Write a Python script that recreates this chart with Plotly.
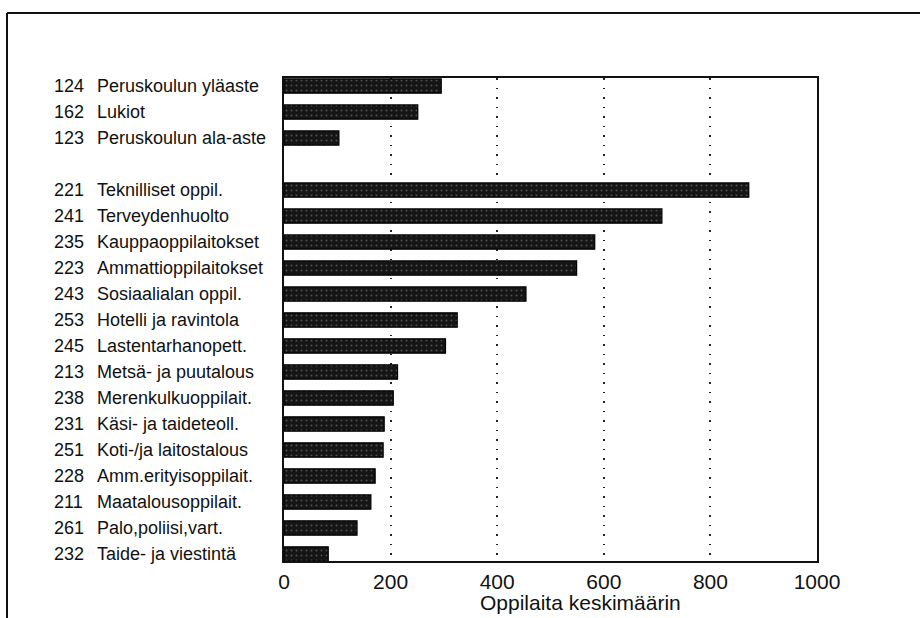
import plotly.graph_objects as go

codes = ["124", "162", "123", "221", "241", "235", "223", "243", "253",
         "245", "213", "238", "231", "251", "228", "211", "261", "232"]
names = ["Peruskoulun yläaste", "Lukiot", "Peruskoulun ala-aste",
         "Teknilliset oppil.", "Terveydenhuolto", "Kauppaoppilaitokset",
         "Ammattioppilaitokset", "Sosiaalialan oppil.", "Hotelli ja ravintola",
         "Lastentarhanopett.", "Metsä- ja puutalous", "Merenkulkuoppilait.",
         "Käsi- ja taideteoll.", "Koti-/ja laitostalous", "Amm.erityisoppilait.",
         "Maatalousoppilait.", "Palo,poliisi,vart.", "Taide- ja viestintä"]
values = [295, 251, 103, 872, 709, 583, 549, 454, 325,
          303, 213, 205, 188, 186, 171, 163, 137, 83]
x_ticks = [0, 200, 400, 600, 800, 1000]
x_title = "Oppilaita keskimäärin"

cats = [c + " " + n for c, n in zip(codes, names)]
# blank separator slot after the first group of three
order = cats[:3] + [" "] + cats[3:]

W, H = 920, 618
L, R, T, B = 284, 103, 78, 57
pw, ph = W - L - R, H - T - B

def px(xp):
    return (xp - L) / pw

def py(yp):
    return (H - B - yp) / ph

FONT = "Liberation Sans, Arial, Helvetica, sans-serif"

fig = go.Figure()
fig.add_trace(go.Bar(
    x=values, y=cats, orientation="h", width=0.55,
    marker=dict(color="#151515",
                line=dict(color="#000000", width=1.2),
                pattern=dict(shape=".", fgcolor="#8a8a8a", size=5, solidity=0.12)),
    hoverinfo="x+y", showlegend=False,
))

annotations = []
for c, n, cat in zip(codes, names, cats):
    annotations.append(dict(x=px(52), xref="paper", y=cat, yref="y", text=c,
                            xanchor="left", yanchor="middle", showarrow=False,
                            font=dict(size=18, color="#111", family=FONT)))
    annotations.append(dict(x=px(95), xref="paper", y=cat, yref="y", text=n,
                            xanchor="left", yanchor="middle", showarrow=False,
                            font=dict(size=18, color="#111", family=FONT)))
annotations.append(dict(x=px(580), xref="paper", y=py(602), yref="paper",
                        text=x_title, xanchor="center", yanchor="middle",
                        showarrow=False, font=dict(size=21, color="#111", family=FONT)))

shapes = [
    dict(type="line", xref="paper", yref="paper", x0=px(7), x1=px(925),
         y0=py(13), y1=py(13), line=dict(color="#111", width=2)),
    dict(type="line", xref="paper", yref="paper", x0=px(7), x1=px(7),
         y0=py(13), y1=py(625), line=dict(color="#111", width=2)),
]

fig.update_layout(
    width=W, height=H,
    margin=dict(l=L, r=R, t=T, b=B),
    paper_bgcolor="white", plot_bgcolor="white",
    font=dict(family=FONT, color="#111"),
    xaxis=dict(range=[0, 1000], tickvals=x_ticks, ticktext=[str(v) for v in x_ticks],
               showgrid=True, gridcolor="#222", gridwidth=1.5, griddash="1.5px,8px",
               zeroline=False, showline=True, linecolor="#111", linewidth=2, mirror=True,
               ticks="outside", ticklen=1, tickcolor="rgba(0,0,0,0)",
               tickfont=dict(size=21, family=FONT, color="#111")),
    yaxis=dict(type="category", categoryorder="array", categoryarray=order,
               range=[18.27, -0.31], showticklabels=False, showgrid=False,
               zeroline=False, showline=True, linecolor="#111", linewidth=2, mirror=True,
               ticks=""),
    annotations=annotations,
    shapes=shapes,
    bargap=0.45,
)

fig.write_html("out.html",
               config={"displayModeBar": False},
               post_script="document.body.style.margin='0px';document.body.style.overflow='hidden';")
